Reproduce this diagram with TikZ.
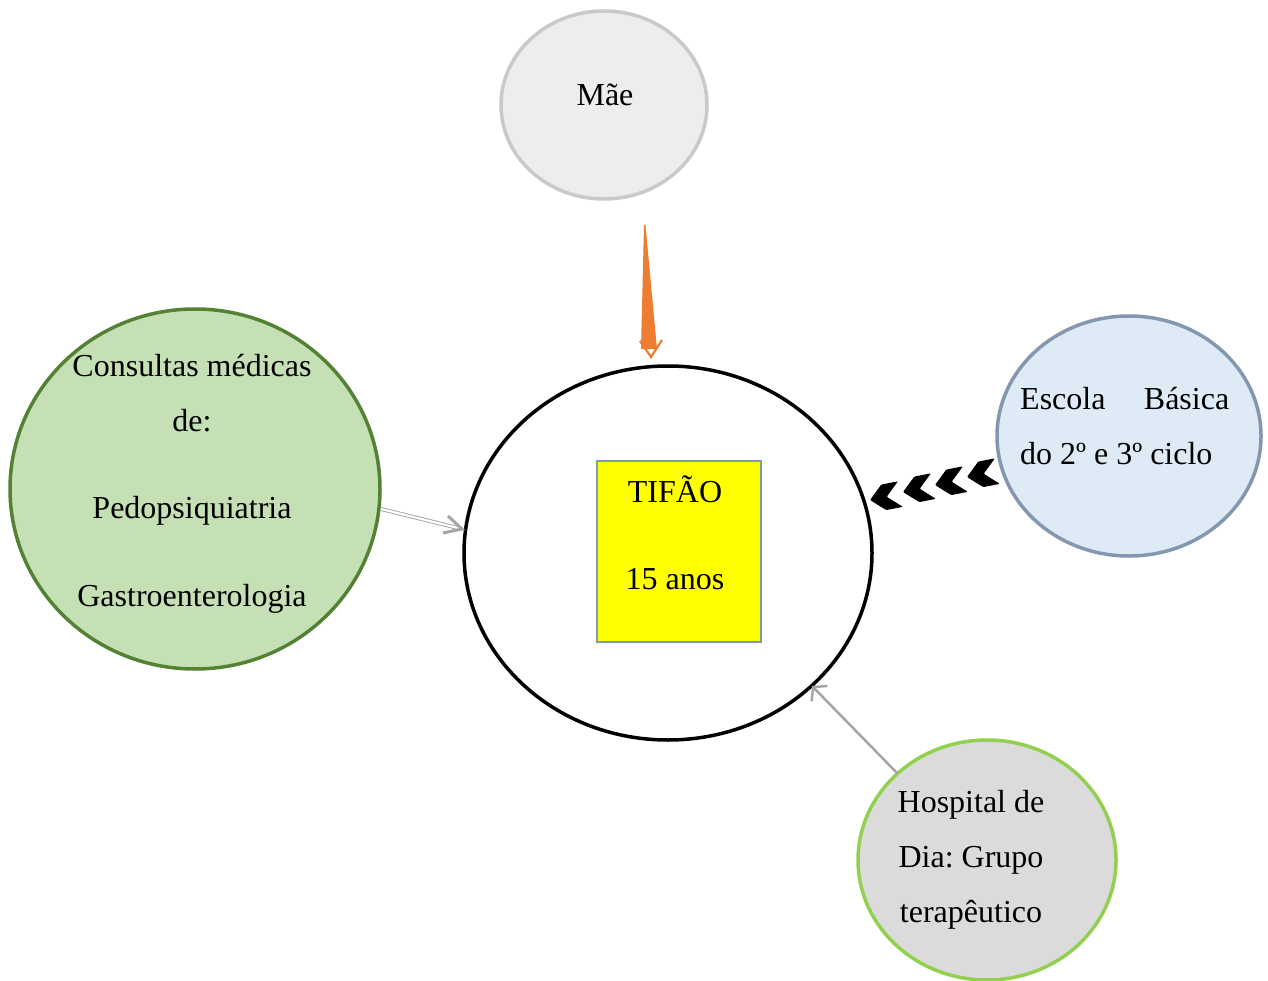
\documentclass[tikz,border=0pt]{standalone}
\usepackage{fontspec}
\setmainfont{Liberation Serif}
\usetikzlibrary{shapes.geometric,arrows.meta}
\frenchspacing
\definecolor{maeF}{HTML}{EDEDED}
\definecolor{maeS}{HTML}{C9C9C9}
\definecolor{orng}{HTML}{ED7D31}
\definecolor{conF}{HTML}{C5E0B4}
\definecolor{conS}{HTML}{548235}
\definecolor{escF}{HTML}{DEEBF7}
\definecolor{escS}{HTML}{8497B0}
\definecolor{hosF}{HTML}{DBDBDB}
\definecolor{hosS}{HTML}{92D050}
\definecolor{boxS}{HTML}{8497B0}
\definecolor{boxF}{HTML}{FFFF00}
\definecolor{lgray}{HTML}{A5A5A5}
\begin{document}
\begin{tikzpicture}[x=1pt,y=-1pt,
  bub/.style={ellipse, inner sep=0pt, line width=3.5pt},
  txt/.style={font=\fontsize{32}{38}\selectfont, inner sep=0pt, anchor=base},
  chev/.style={fill=black}]
\useasboundingbox (0,0) rectangle (1268,981);
% nodes
\node[bub, draw=maeS, fill=maeF, minimum width=206pt, minimum height=188pt] (mae) at (604,105) {};
\node[bub, draw=black, fill=white, minimum width=408pt, minimum height=374pt] (tif) at (668,553) {};
\node[draw=boxS, fill=boxF, line width=1.2pt, minimum width=164pt, minimum height=181pt, inner sep=0pt] (box) at (679,551.5) {};
\node[bub, draw=conS, fill=conF, minimum width=370pt, minimum height=360pt] (con) at (195,489) {};
\node[bub, draw=escS, fill=escF, minimum width=264pt, minimum height=240pt] (esc) at (1129,436) {};
\node[bub, draw=hosS, fill=hosF, minimum width=258pt, minimum height=240pt] (hos) at (987,860) {};
% texts
\node[txt] (tmae) at (605,106) {Mãe};
\node[txt] (t1) at (675,502) {TIFÃO};
\node[txt] (t2) at (675,589) {15 anos};
\node[txt] (c1) at (192,376) {Consultas médicas};
\node[txt] (c2) at (192,431) {de:};
\node[txt] (c3) at (192,518) {Pedopsiquiatria};
\node[txt] (c4) at (192,606) {Gastroenterologia};
\node[txt, anchor=base west] (e1) at (1020,409) {\hbox to 209pt{Escola\hfill Básica}};
\node[txt, anchor=base west] (e2) at (1020,464) {do 2º e 3º ciclo};
\node[txt] (h1) at (971,812) {Hospital de};
\node[txt] (h2) at (971,867) {Dia: Grupo};
\node[txt] (h3) at (971,922) {terapêutico};
% orange arrow (Mãe -> TIFÃO)
\coordinate (oTop) at (644,225);
\coordinate (oTip) at (651,357);
\fill[orng] (oTop) -- ++(1.5,0) -- (657,349) -- (641,349) -- cycle;
\draw[orng, line width=2.2pt, line join=miter] (oTip) ++(-11,-16) -- (oTip) -- ++(11,-17);
% double arrow (Consultas -> TIFÃO)
\coordinate (dA) at (381,509);
\coordinate (dB) at (462,529);
\draw[lgray, line width=0.9pt, double=white, double distance=2.2pt] (dA) -- (dB);
\draw[lgray, line width=3pt] (448,516) -- (dB) -- (443,533);
% chevrons (Escola -> TIFÃO)
\coordinate (ch1) at (870,500);
\coordinate (ch2) at (903,492);
\coordinate (ch3) at (935,485);
\coordinate (ch4) at (967,477);
\foreach \c in {ch1,ch2,ch3,ch4}{
  \fill[chev, shift={(\c)}, rotate=11, rounded corners=1pt] (0,0) -- (14,-13) -- (31,-13) -- (17,0) -- (31,13) -- (14,13) -- cycle;
}
% hospital arrow
\coordinate (hA) at (897,773);
\coordinate (hB) at (812,686);
\draw[lgray, line width=2.5pt, -{Straight Barb[length=9pt, width=22pt, line width=2.5pt]}] (hA) -- (hB);
\end{tikzpicture}
\end{document}
